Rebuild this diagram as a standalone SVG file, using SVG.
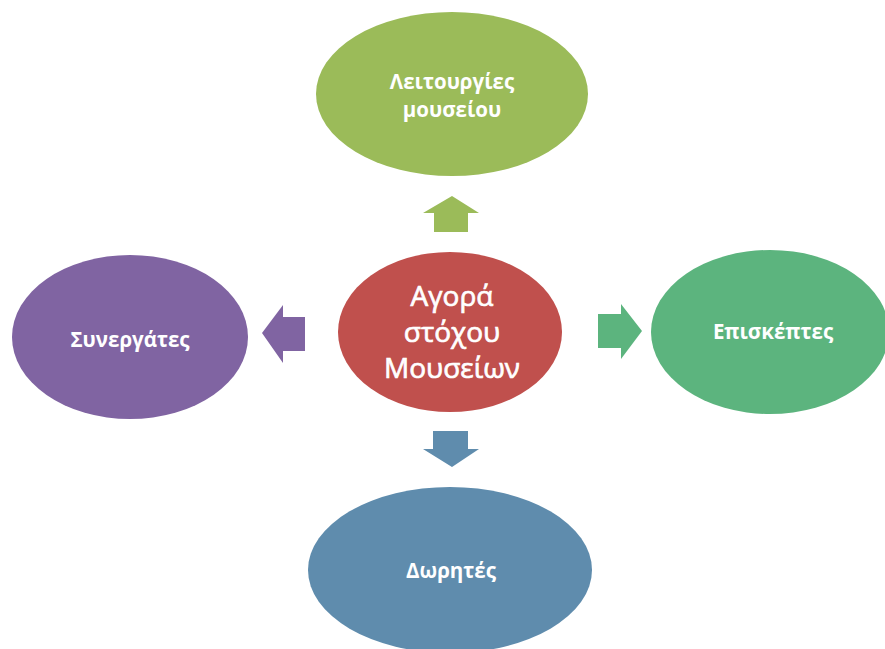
<svg xmlns="http://www.w3.org/2000/svg" width="885" height="649" viewBox="0 0 885 649">
<style>
text{font-family:"Open Sans","Noto Sans","Liberation Sans",sans-serif;fill:#fff;text-anchor:middle}
.lbl{font-size:20.5px;font-weight:bold}
.ctr{font-size:28px;stroke:#fff;stroke-width:0.7px}
</style>
<rect width="885" height="649" fill="#fff"/>
<g id="connectors">
<polygon points="452,196 479,213 468,213 468,232 434,232 434,213 423,213" fill="#9BBB59"/>
<polygon points="262,333 283,305 283,317 305,317 305,351 283,351 283,363" fill="#8064A2"/>
<polygon points="642,331 621,304 621,314 598,314 598,348 621,348 621,359" fill="#5CB47E"/>
<polygon points="452,467 479,449 468,449 468,431 433,431 433,449 423,449" fill="#5F8CAD"/>
</g>
<g id="center">
<ellipse cx="450" cy="332" rx="112" ry="80" fill="#C0504D"/>
<text class="ctr" x="452" y="306">Αγορά</text>
<text class="ctr" x="452" y="342">στόχου</text>
<text class="ctr" x="452" y="378">Μουσείων</text>
</g>
<g id="top">
<ellipse cx="452" cy="94" rx="136" ry="82" fill="#9BBB59"/>
<text class="lbl" x="452" y="89">Λειτουργίες</text>
<text class="lbl" x="452" y="117">μουσείου</text>
</g>
<g id="left">
<ellipse cx="130" cy="337" rx="118" ry="82" fill="#8064A2"/>
<text class="lbl" x="130" y="347">Συνεργάτες</text>
</g>
<g id="right">
<ellipse cx="770" cy="332" rx="119" ry="82" fill="#5CB47E"/>
<text class="lbl" x="773" y="339">Επισκέπτες</text>
</g>
<g id="bottom">
<ellipse cx="450" cy="570" rx="142" ry="83" fill="#5F8CAD"/>
<text class="lbl" x="451" y="578">Δωρητές</text>
</g>
</svg>
